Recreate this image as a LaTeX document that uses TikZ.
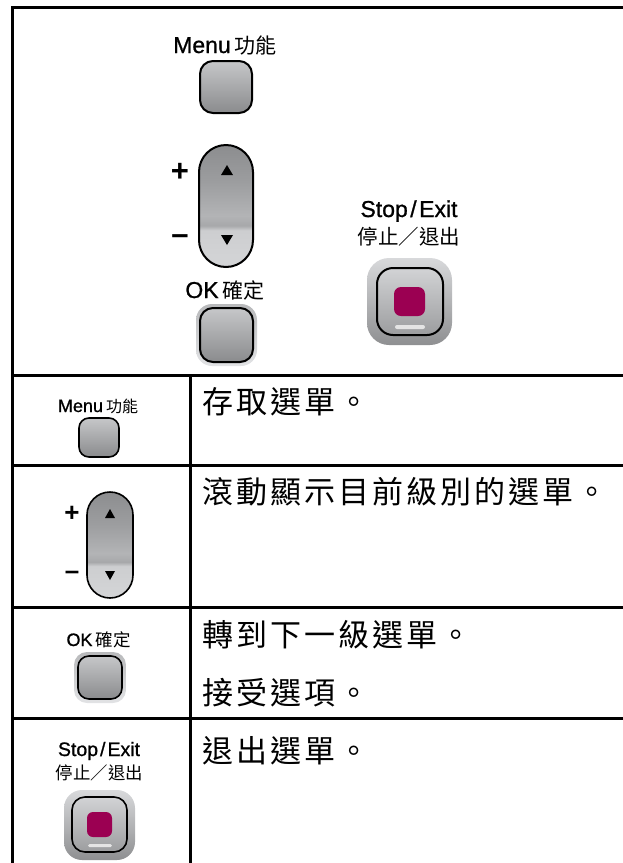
\documentclass[tikz,border=0pt]{standalone}
\usepackage{fontspec}
\setmainfont{Liberation Sans}
\newfontfamily\medfont{Liberation Sans}[FakeBold=0.9]
\newfontfamily\cjk{Noto Sans CJK TC}
\usetikzlibrary{calc}
\definecolor{btnTop}{HTML}{C6C7C9}
\definecolor{btnBot}{HTML}{8A8B8D}
\definecolor{ringTop}{HTML}{B8B9BB}
\definecolor{ringBot}{HTML}{E2E3E5}
\definecolor{stopOutTop}{HTML}{D8D9DB}
\definecolor{stopOutBot}{HTML}{8E8F91}
\definecolor{stopInTop}{HTML}{D2D3D5}
\definecolor{stopInBot}{HTML}{9C9D9F}
\definecolor{stopRed}{HTML}{9B0052}
\definecolor{barGray}{HTML}{E4E4E4}
\definecolor{rA}{HTML}{D4D5D7}
\definecolor{rB}{HTML}{CDCED0}
\definecolor{rC}{HTML}{A7A8AA}
\definecolor{rD}{HTML}{B3B4B6}
\definecolor{rE}{HTML}{9C9D9F}
\definecolor{rF}{HTML}{8C8D8F}
\pgfdeclareverticalshading{rocker}{100bp}{color(0bp)=(rA); color(25bp)=(rA); color(40bp)=(rB); color(42bp)=(rC); color(46bp)=(rD); color(60bp)=(rE); color(75bp)=(rF); color(100bp)=(rF)}
\newcommand\spacedtext[2]{\def\spadv{#1}\spacedloop#2\relax}
\def\spacedloop#1{\ifx#1\relax\else\makebox[\spadv][l]{#1}\expandafter\spacedloop\fi}
\tikzset{
  tableline/.style={line width=3pt, line cap=rect},
  outline/.style={draw=black, line width=2pt},
  outlinesm/.style={draw=black, line width=1.6pt},
  biglabel/.style={anchor=base, inner sep=0pt, font=\medfont\fontsize{23}{27}\selectfont},
  bigcjk/.style={anchor=base, inner sep=0pt, font=\cjk\fontsize{20.5}{24}\selectfont},
  smalllabel/.style={anchor=base, inner sep=0pt, font=\medfont\fontsize{18}{22}\selectfont},
  desc/.style={anchor=base west, inner sep=0pt, font=\cjk\fontsize{31}{34}\selectfont},
  sign/.style={inner sep=0pt, font=\bfseries\fontsize{31}{34}\selectfont},
  signsm/.style={inner sep=0pt, font=\bfseries\fontsize{26}{30}\selectfont},
}
\begin{document}
\begin{tikzpicture}[x=1pt,y=-1pt]
\useasboundingbox (0,0) rectangle (623,863);
% table lines
\draw[tableline] (12,863) -- (12,7) -- (623,7);
\draw[tableline] (12,375) -- (623,375);
\draw[tableline] (12,465) -- (623,465);
\draw[tableline] (12,607) -- (623,607);
\draw[tableline] (12,718) -- (623,718);
\draw[tableline] (190,375) -- (190,863);

% ===== Top panel =====
\node[biglabel] (menuT) at (225,53) {Menu\kern4pt{\cjk\fontsize{21}{24}\selectfont 功能}};
\shade[top color=btnTop, bottom color=btnBot, rounded corners=13pt] (200,61) rectangle (252,113);
\draw[outline, rounded corners=13pt] (200,61) rectangle (252,113);

\shade[shading=rocker, rounded corners=27pt] (199,145) rectangle (253,267);
\draw[outline, rounded corners=27pt] (199,145) rectangle (253,267);
\fill (221,175) -- (233,175) -- (227,165) -- cycle;
\fill (221,235) -- (233,235) -- (227,245) -- cycle;
\node[sign] (plusT) at (180,172) {+};
\node[sign] (minusT) at (180,240) {–};

\node[biglabel] (okT) at (225,298) {OK\kern4pt{\cjk\fontsize{21}{24}\selectfont 確定}};
\shade[top color=ringTop, bottom color=ringBot, rounded corners=16pt] (196,304) rectangle (257,366);
\shade[top color=btnTop, bottom color=btnBot, rounded corners=13pt] (200,308) rectangle (253,362);
\draw[outline, rounded corners=13pt] (200,308) rectangle (253,362);

\node[biglabel] (stopT) at (409,217) {Stop\kern2.5pt/\kern2.5pt Exit};
\node[bigcjk] (stopcjkT) at (409,244) {停止／退出};
\shade[top color=stopOutTop, bottom color=stopOutBot, rounded corners=22pt] (367,258) rectangle (452,345);
\shade[top color=stopInTop, bottom color=stopInBot, rounded corners=16pt] (377,268) rectangle (443,335);
\draw[outline, rounded corners=16pt] (377,268) rectangle (443,335);
\fill[stopRed, rounded corners=7pt] (394,287) rectangle (425,316);
\fill[barGray, rounded corners=2pt] (395,325) rectangle (425,329);

% ===== Row 1: Menu =====
\node[smalllabel] (menuS) at (98,412) {Menu\kern3pt{\cjk\fontsize{16}{20}\selectfont 功能}};
\shade[top color=btnTop, bottom color=btnBot, rounded corners=10pt] (79,418) rectangle (119,457);
\draw[outlinesm, rounded corners=10pt] (79,418) rectangle (119,457);
\node[desc] (d1) at (202,413) {\spacedtext{34pt}{存取選單。}};

% ===== Row 2: rocker =====
\shade[shading=rocker, rounded corners=23pt] (87,492) rectangle (133,598);
\draw[outlinesm, rounded corners=23pt] (87,492) rectangle (133,598);
\fill (105,518) -- (115,518) -- (110,509) -- cycle;
\fill (105,571) -- (115,571) -- (110,580) -- cycle;
\node[signsm] (plusS) at (72,514) {+};
\node[signsm] (minusS) at (72,575) {–};
\node[desc] (d2) at (202,503) {\spacedtext{34pt}{滾動顯示目前級別的選單。}};

% ===== Row 3: OK =====
\node[smalllabel] (okS) at (98.5,646) {OK\kern3pt{\cjk\fontsize{17.5}{20}\selectfont 確定}};
\shade[top color=ringTop, bottom color=ringBot, rounded corners=13pt] (74,652) rectangle (126,703);
\shade[top color=btnTop, bottom color=btnBot, rounded corners=11pt] (78,656) rectangle (122,699);
\draw[outlinesm, rounded corners=11pt] (78,656) rectangle (122,699);
\node[desc] (d3) at (202,646) {\spacedtext{34pt}{轉到下一級選單。}};
\node[desc] (d4) at (202,704) {\spacedtext{34pt}{接受選項。}};

% ===== Row 4: Stop =====
\node[smalllabel, font=\medfont\fontsize{19.5}{23}\selectfont] (stopS) at (99,756) {Stop\kern2pt/\kern2pt Exit};
\node[anchor=base, inner sep=0pt, font=\cjk\fontsize{17.4}{20}\selectfont] (stopcjkS) at (99.5,779) {停止／退出};
\shade[top color=stopOutTop, bottom color=stopOutBot, rounded corners=18pt] (64,790) rectangle (135,860);
\shade[top color=stopInTop, bottom color=stopInBot, rounded corners=13pt] (72,797) rectangle (127,852);
\draw[outlinesm, rounded corners=13pt] (72,797) rectangle (127,852);
\fill[stopRed, rounded corners=6pt] (87,812) rectangle (112,837);
\fill[barGray, rounded corners=1.5pt] (88,844) rectangle (112,847);
\node[desc] (d5) at (202,762) {\spacedtext{34pt}{退出選單。}};
\end{tikzpicture}
\end{document}
